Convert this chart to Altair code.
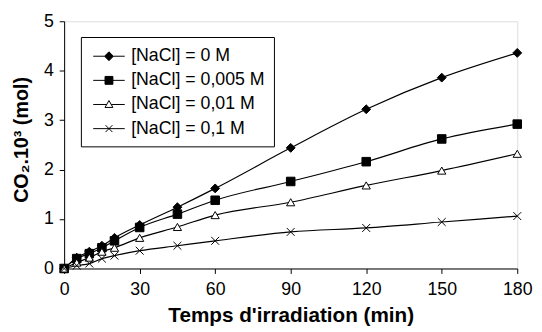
import altair as alt
import pandas as pd

times = [0, 5, 10, 15, 20, 30, 45, 60, 90, 120, 150, 180]
series_names = ["[NaCl] = 0 M", "[NaCl] = 0,005 M", "[NaCl] = 0,01 M", "[NaCl] = 0,1 M"]
nacl_0 = [0, 0.22, 0.34, 0.46, 0.62, 0.88, 1.24, 1.62, 2.44, 3.22, 3.86, 4.36]
nacl_0005 = [0, 0.20, 0.30, 0.42, 0.56, 0.83, 1.10, 1.38, 1.76, 2.16, 2.62, 2.92]
nacl_001 = [0, 0.12, 0.22, 0.34, 0.42, 0.62, 0.84, 1.08, 1.34, 1.68, 1.98, 2.32]
nacl_01 = [0, 0.06, 0.10, 0.20, 0.26, 0.36, 0.46, 0.56, 0.74, 0.82, 0.94, 1.06]

x_ticks = [0, 30, 60, 90, 120, 150, 180]
y_ticks = [0, 1, 2, 3, 4, 5]

rows = []
for name, vals in zip(series_names, [nacl_0, nacl_0005, nacl_001, nacl_01]):
    for t, v in zip(times, vals):
        rows.append({"t": t, "co2": v, "serie": name})
df = pd.DataFrame(rows)

FONT = "Liberation Sans"

xenc = alt.X("t:Q", scale=alt.Scale(domain=[0, 180], nice=False),
             axis=alt.Axis(values=x_ticks, title="Temps d'irradiation (min)",
                           grid=False, tickSize=5, labelPadding=7, titlePadding=7,
                           labelFontSize=18, titleFontSize=21, labelFont=FONT, titleFont=FONT,
                           titleFontWeight="bold", domainColor="black", tickColor="black",
                           labelColor="black", titleColor="black", labelFlush=False))
yenc = alt.Y("co2:Q", scale=alt.Scale(domain=[0, 5], nice=False),
             axis=alt.Axis(values=y_ticks, title="CO₂.10³ (mol)",
                           grid=False, tickSize=5, labelPadding=6, titlePadding=12,
                           titleY=120,
                           labelFontSize=18, titleFontSize=20, labelFont=FONT, titleFont=FONT,
                           titleFontWeight="bold", domainColor="black", tickColor="black",
                           labelColor="black", titleColor="black", labelFlush=False))

shapes = ["diamond", "square", "triangle-up", "M-1,-1L1,1M-1,1L1,-1"]
fills = ["black", "black", "white", "transparent"]
strokes = ["black", "black", "black", "black"]
sizes = [81, 64, 81, 64]

leg_paths = [
    "M-1.6,0L-0.45,0M0.45,0L1.6,0M-0.45,0L0,-0.45L0.45,0L0,0.45Z",
    "M-1.6,0L-0.4,0M0.4,0L1.6,0M-0.4,-0.4L0.4,-0.4L0.4,0.4L-0.4,0.4Z",
    "M-1.6,0L-0.23,0M0.23,0L1.6,0M0,-0.4L0.4,0.3L-0.4,0.3Z",
    "M-1.6,0L1.6,0M-0.35,-0.35L0.35,0.35M-0.35,0.35L0.35,-0.35",
]

legend = alt.Legend(
    title=None, orient="none", legendX=17, legendY=16,
    strokeColor="black", fillColor="white", padding=9,
    labelFont=FONT, labelFontSize=18, labelColor="black", labelLimit=400,
    symbolSize=400, symbolOffset=9, labelOffset=12, rowPadding=4.5,
    symbolOpacity=1, symbolStrokeWidth=1,
)

lines = alt.Chart(df).mark_line(color="black", strokeWidth=1.2, interpolate="monotone").encode(
    x=xenc, y=yenc, detail="serie:N")

points = alt.Chart(df).mark_point(filled=False, stroke="black", strokeWidth=1, opacity=1).encode(
    x=xenc, y=yenc,
    shape=alt.Shape("serie:N", scale=alt.Scale(domain=series_names, range=shapes), legend=None),
    fill=alt.Fill("serie:N", scale=alt.Scale(domain=series_names, range=fills), legend=None),
    size=alt.Size("serie:N", scale=alt.Scale(domain=series_names, range=sizes), legend=None),
)

legend_layer = alt.Chart(df).mark_point(filled=False, strokeWidth=1, opacity=0).encode(
    x=xenc, y=yenc,
    shape=alt.Shape("serie:N", scale=alt.Scale(domain=series_names, range=leg_paths), legend=legend),
    fill=alt.Fill("serie:N", scale=alt.Scale(domain=series_names, range=fills), legend=legend),
    stroke=alt.Stroke("serie:N", scale=alt.Scale(domain=series_names, range=strokes), legend=legend),
)

chart = alt.layer(lines, points, legend_layer).resolve_scale(
    shape="independent", fill="independent", stroke="independent"
).resolve_legend(shape="independent", fill="independent", stroke="independent").properties(
    width=460, height=251,
    autosize=alt.AutoSizeParams(type="none"),
    padding={"left": 57, "top": 11, "right": 17, "bottom": 62},
).configure_view(stroke="black", strokeWidth=1).configure(background="white")

chart.save("out.html", embed_options={"renderer": "svg", "actions": False})
